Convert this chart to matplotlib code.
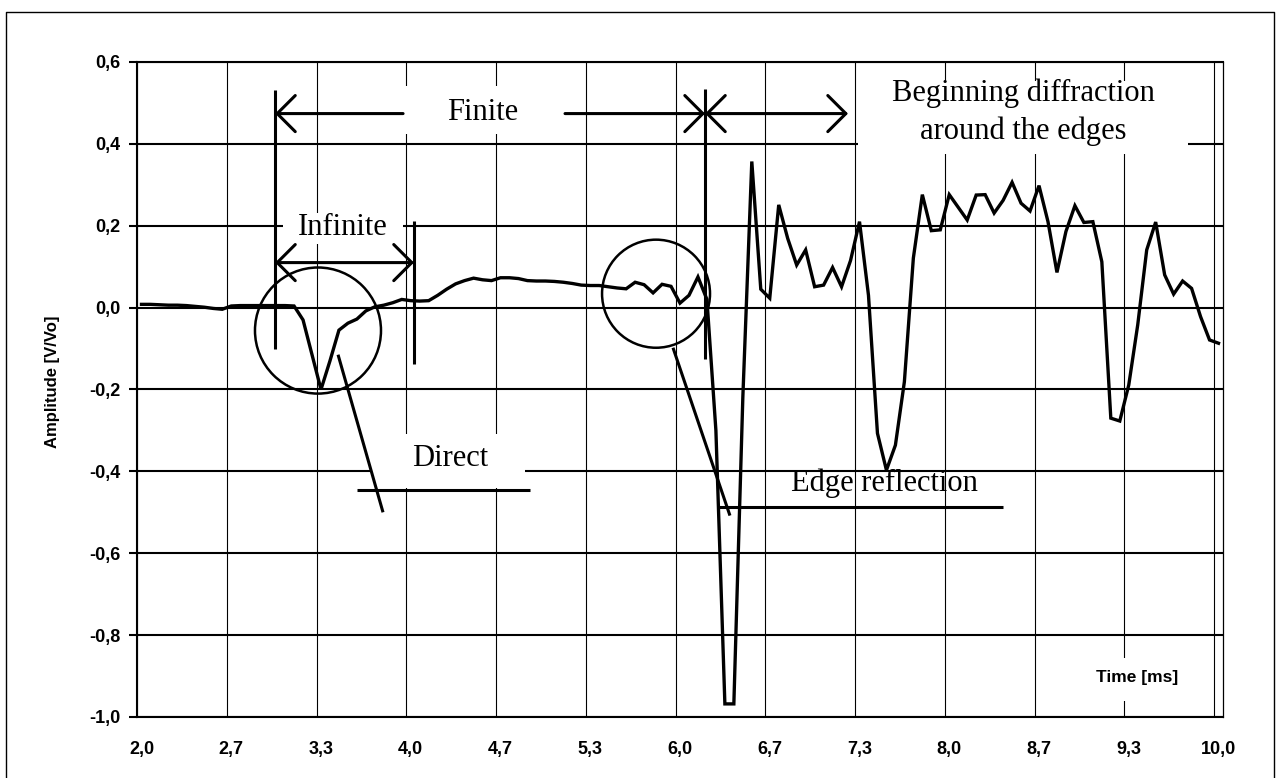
import numpy as np
import matplotlib.pyplot as plt
from matplotlib.patches import Ellipse, Rectangle, FancyArrowPatch
from matplotlib.ticker import FuncFormatter, FixedLocator
from matplotlib.lines import Line2D

# Sampled signal: 121 points between 2 and 10 ms
time_ms = np.linspace(2.0, 10.0, 121)
amplitude = [
    0.008, 0.008, 0.007, 0.006, 0.006, 0.005, 0.003, 0.001, -0.002, -0.004,
    0.004, 0.005, 0.005, 0.005, 0.005, 0.005, 0.005, 0.004, -0.030, -0.115,
    -0.200, -0.130, -0.055, -0.038, -0.028, -0.008, 0.002, 0.006, 0.012, 0.020,
    0.017, 0.016, 0.017, 0.030, 0.045, 0.058, 0.066, 0.072, 0.068, 0.066,
    0.073, 0.073, 0.071, 0.066, 0.065, 0.065, 0.064, 0.062, 0.059, 0.055,
    0.054, 0.054, 0.051, 0.048, 0.046, 0.062, 0.056, 0.036, 0.057, 0.052,
    0.011, 0.030, 0.075, 0.020, -0.300, -0.968, -0.968, -0.220, 0.357, 0.045,
    0.023, 0.251, 0.169, 0.104, 0.141, 0.051, 0.055, 0.098, 0.051, 0.115,
    0.210, 0.030, -0.307, -0.397, -0.336, -0.181, 0.121, 0.276, 0.188, 0.190,
    0.276, 0.245, 0.214, 0.275, 0.276, 0.231, 0.262, 0.306, 0.255, 0.236,
    0.298, 0.210, 0.086, 0.186, 0.249, 0.208, 0.210, 0.112, -0.270, -0.277,
    -0.189, -0.042, 0.141, 0.209, 0.080, 0.033, 0.065, 0.047, -0.022, -0.079,
    -0.087,
]
x_labels = time_ms[::10]
y_ticks = [-1.0, -0.8, -0.6, -0.4, -0.2, 0.0, 0.2, 0.4, 0.6]

half = (time_ms[1] - time_ms[0]) / 2
serif = 'Liberation Serif'
sans = 'Liberation Sans'

fig = plt.figure(figsize=(12.8, 7.78), dpi=100)
ax = fig.add_axes([137 / 1280, 1 - 717 / 778, (1223 - 137) / 1280, (717 - 62) / 778])

ax.plot(time_ms, amplitude, color='black', lw=2.4, zorder=5, solid_joinstyle='miter')

ax.set_xlim(time_ms[0] - half, time_ms[-1] + half)
ax.set_ylim(-1.0, 0.6)

# category style axis: labels in the middle, grid on the category edges
ax.xaxis.set_major_locator(FixedLocator(x_labels))
ax.xaxis.set_minor_locator(FixedLocator(x_labels - half))
ax.yaxis.set_major_locator(FixedLocator(y_ticks))
comma = FuncFormatter(lambda v, p: f"{v:.1f}".replace('.', ','))
ax.xaxis.set_major_formatter(comma)
ax.yaxis.set_major_formatter(comma)

ax.grid(True, which='minor', axis='x', color='black', lw=0.8)
ax.grid(True, which='major', axis='y', color='black', lw=1.5)
ax.set_axisbelow(True)
ax.tick_params(axis='x', which='both', length=0, pad=17)
ax.tick_params(axis='y', length=6, width=1.5, direction='out', pad=6)
for lab in ax.get_xticklabels() + ax.get_yticklabels():
    lab.set_fontfamily(sans)
    lab.set_fontweight('bold')
    lab.set_fontsize(13)
for side in ['left', 'top', 'bottom']:
    ax.spines[side].set_linewidth(1.5)
ax.spines['right'].set_linewidth(0.9)

fig.text(53 / 1280, 1 - 382 / 778, 'Amplitude [V/Vo]', rotation=90, ha='center', va='center',
         fontfamily=sans, fontweight='bold', fontsize=12)

# white boxes behind the labels
for x0, x1, y0, y1 in [(3.943, 5.12, 0.425, 0.542), (3.051, 3.943, 0.156, 0.230),
                       (3.697, 4.849, -0.440, -0.308), (7.322, 9.774, 0.376, 0.554),
                       (9.023, 9.774, -0.960, -0.855)]:
    ax.add_patch(Rectangle((x0, y0), x1 - x0, y1 - y0, facecolor='white', edgecolor='none', zorder=2))

ax.text(9.394, -0.904, 'Time [ms]', ha='center', va='center', fontfamily=sans,
        fontweight='bold', fontsize=12.5, zorder=3)

txt = dict(fontfamily=serif, fontsize=22, ha='center', va='center', zorder=3)
ax.text(4.537, 0.476, 'Finite', **txt)
ax.text(3.497, 0.195, 'Infinite', **txt)
ax.text(4.29, -0.369, 'Direct', **txt)
ax.text(7.515, -0.43, 'Edge reflection', **txt)
ax.text(8.548, 0.523, 'Beginning diffraction', **txt)
ax.text(8.548, 0.432, 'around the edges', **txt)

lw = 2.2
ln = dict(color='black', lw=lw, zorder=6, solid_capstyle='butt')
# vertical markers
ax.plot([2.992, 2.992], [0.532, -0.100], **ln)
ax.plot([6.186, 6.186], [0.535, -0.125], **ln)
ax.plot([4.024, 4.024], [0.2125, -0.137], **ln)

arr = dict(color='black', lw=lw, zorder=6, mutation_scale=20, shrinkA=0, shrinkB=0)
style = '->, head_length=0.65, head_width=0.65'
ax.add_patch(FancyArrowPatch((3.943, 0.474), (2.992, 0.474), arrowstyle=style, **arr))
ax.add_patch(FancyArrowPatch((5.146, 0.474), (6.186, 0.474), arrowstyle=style, **arr))
ax.add_patch(FancyArrowPatch((7.248, 0.474), (6.186, 0.474),
                             arrowstyle='<->, head_length=0.65, head_width=0.65', **arr))
ax.add_patch(FancyArrowPatch((2.992, 0.11), (4.024, 0.11),
                             arrowstyle='<->, head_length=0.65, head_width=0.65', **arr))

# circles around the arrivals and their pointers
ax.add_patch(Ellipse((3.311, -0.056), 2 * 0.468, 2 * 0.154, fill=False, edgecolor='black', lw=1.8, zorder=6))
ax.add_patch(Ellipse((5.822, 0.034), 2 * 0.401, 2 * 0.132, fill=False, edgecolor='black', lw=1.8, zorder=6))
ax.plot([3.46, 3.794], [-0.115, -0.50], **ln)
ax.plot([3.60, 4.886], [-0.445, -0.445], **ln)
ax.plot([5.948, 6.371], [-0.098, -0.508], **ln)
ax.plot([6.275, 8.399], [-0.486, -0.486], **ln)

# outer frame
fig.add_artist(Line2D([6 / 1280, 6 / 1280, 1274 / 1280, 1274 / 1280],
                      [1 - 777 / 778, 1 - 12 / 778, 1 - 12 / 778, 1 - 777 / 778],
                      transform=fig.transFigure, color='black', lw=1.0))

fig.savefig('out.png', dpi=100)
